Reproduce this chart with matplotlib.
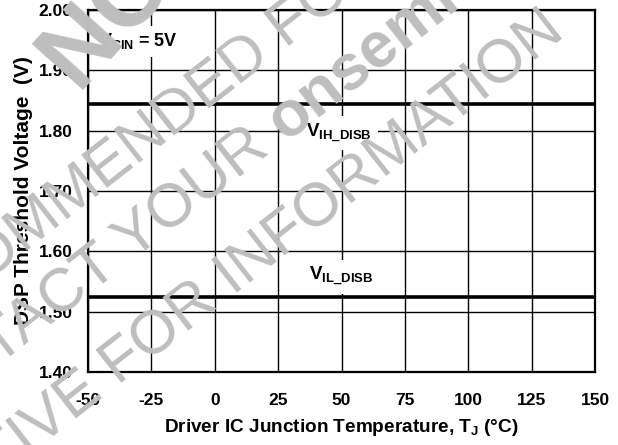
import matplotlib
matplotlib.use("Agg")
import matplotlib.pyplot as plt

# data
temps = [-50, -25, 0, 25, 50, 75, 100, 125, 150]
v_ih_disb = [1.845, 1.845, 1.845, 1.845, 1.845, 1.845, 1.845, 1.845, 1.845]
v_il_disb = [1.525, 1.525, 1.525, 1.525, 1.525, 1.525, 1.525, 1.525, 1.525]
x_ticks = [-50, -25, 0, 25, 50, 75, 100, 125, 150]
y_ticks = [1.40, 1.50, 1.60, 1.70, 1.80, 1.90, 2.00]

W, H = 618, 445

plt.rcParams["font.family"] = ["Liberation Sans", "DejaVu Sans"]
plt.rcParams["font.weight"] = "bold"
plt.rcParams["mathtext.fontset"] = "custom"
plt.rcParams["mathtext.rm"] = "Liberation Sans:bold"
plt.rcParams["mathtext.bf"] = "Liberation Sans:bold"
plt.rcParams["mathtext.it"] = "Liberation Sans:bold"
plt.rcParams["mathtext.default"] = "rm"

fig = plt.figure(figsize=(W / 100, H / 100), dpi=100)
ax = fig.add_axes([88 / W, 1 - 372 / H, (595 - 88) / W, (372 - 10) / H])

ax.plot(temps, v_ih_disb, color="black", linewidth=2.6, zorder=3)
ax.plot(temps, v_il_disb, color="black", linewidth=2.6, zorder=3)

ax.set_xlim(-50, 150)
ax.set_ylim(1.40, 2.00)
ax.set_xticks(x_ticks)
ax.set_yticks(y_ticks)
ax.set_xticklabels(["%d" % t for t in x_ticks])
ax.set_yticklabels(["%.2f" % v for v in y_ticks])
ax.tick_params(length=0, labelsize=12.5, pad=11)
ax.tick_params(axis="x", pad=15)
ax.grid(color="black", linewidth=1.0, zorder=1)
for sp in ax.spines.values():
    sp.set_linewidth(1.6)

ax.set_xlabel("Driver IC Junction Temperature, T$_J$ (°C)", fontsize=13.7,
              fontweight="bold")
ax.xaxis.set_label_coords(0.5, -(417 - 372) / 362)
ax.set_ylabel("DSP Threshold Voltage  (V)", fontsize=15, fontweight="bold")
ax.yaxis.set_label_coords((33 - 88) / 507, 0.5)

box = dict(facecolor="white", edgecolor="none", pad=4)
ax.text(-45.5, 1.940, "V$_{CIN}$ = 5V", fontsize=13, ha="left",
        va="baseline", bbox=box, zorder=4)
ax.text(49.0, 1.796, "V$_{IH\\_DISB}$", fontsize=13.5, ha="center",
        va="center", bbox=box, zorder=4)
ax.text(50.0, 1.558, "V$_{IL\\_DISB}$", fontsize=13.5, ha="center",
        va="center", bbox=box, zorder=4)

# watermark
wm = dict(color="#bebebe", fontsize=44, rotation=38, rotation_mode="anchor",
          zorder=10, fontweight="normal")


def px(x, y):
    return x / W, 1 - y / H


fig.text(*px(128, -6), "NOT", ha="center", va="center",
         **dict(wm, fontweight="bold", fontsize=72, rotation=48))
fig.text(*px(232, 72), "NOT RECOMMENDED FOR NEW DESIGN", ha="center",
         va="center", **wm)
fig.text(*px(285, 142), "CONTACT YOUR ", ha="right", va="baseline", **wm)
wm_b = dict(wm, fontweight="bold", fontsize=46)
fig.text(*px(285, 142), "onsemi", ha="left", va="baseline", **wm_b)
fig.text(*px(567, 36), "REPRESENTATIVE FOR INFORMATION", ha="right",
         va="baseline", **wm)

fig.savefig("out.png", dpi=100)
